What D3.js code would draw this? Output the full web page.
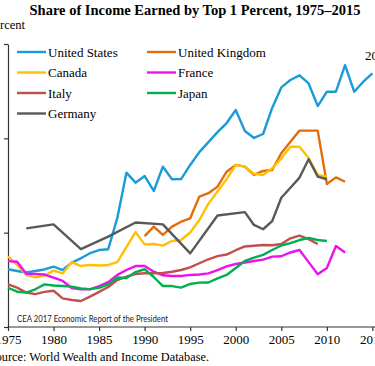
<!DOCTYPE html>
<html><head><meta charset="utf-8">
<script src="https://cdn.jsdelivr.net/npm/d3@7"></script>
<style>body{margin:0;background:#fff;overflow:hidden}svg{display:block}</style>
</head><body>
<svg id="c" width="375" height="366"></svg>
<script>
const seriesNames = ["United States","United Kingdom","Canada","France","Italy","Japan","Germany"];
const seriesColors = ["#1a9bd7","#e46c0a","#ffc000","#ee11ee","#c0504d","#00b050","#595959"];
const usYears = d3.range(1975, 2016);
const usValues = [8.06,7.97,7.89,7.97,8.05,8.20,8.02,8.41,8.64,8.91,9.08,9.12,10.78,13.18,12.65,13.00,12.21,13.50,12.83,12.84,13.59,14.27,14.80,15.33,15.81,16.50,15.39,15.02,15.23,16.61,17.70,18.09,18.34,17.91,16.71,17.47,17.47,18.88,17.47,18.00,18.44];
const ukYears = d3.range(1990, 2013);
const ukValues = [9.82,10.32,9.88,10.32,10.58,10.76,11.91,12.09,12.44,13.23,13.59,13.50,13.06,13.27,13.32,14.21,14.82,15.41,15.41,15.41,12.58,12.93,12.70];
const canadaYears = d3.range(1975, 2011);
const canadaValues = [8.74,8.29,7.78,7.63,7.73,7.99,7.84,8.44,8.23,8.29,8.26,8.29,8.44,9.24,10.03,9.38,9.40,9.31,9.56,9.61,10.01,10.67,11.54,12.18,12.84,13.59,13.50,13.12,13.06,13.41,13.94,14.55,14.55,13.96,13.06,12.97];
const franceYears = d3.range(1975, 2013);
const franceValues = [8.49,8.46,7.82,7.81,7.78,7.62,7.44,7.07,7.00,7.00,7.17,7.38,7.76,8.02,8.23,8.23,7.93,7.74,7.70,7.70,7.76,7.78,7.84,8.02,8.21,8.34,8.42,8.50,8.57,8.73,8.75,8.95,9.08,8.44,7.80,8.13,9.29,8.95];
const italyYears = d3.range(1975, 2010);
const italyValues = [7.26,7.09,6.83,6.74,6.86,6.92,6.52,6.43,6.38,6.61,6.86,7.12,7.49,7.67,7.81,7.85,7.85,7.86,7.93,8.02,8.16,8.38,8.59,8.76,8.84,9.07,9.27,9.31,9.35,9.33,9.40,9.70,9.84,9.66,9.40];
const japanYears = d3.range(1975, 2011);
const japanValues = [7.08,6.87,6.82,7.00,7.26,7.20,7.17,7.14,7.04,7.01,7.08,7.26,7.62,7.60,7.91,8.06,7.65,7.17,7.17,7.09,7.28,7.35,7.36,7.58,7.76,8.13,8.50,8.68,8.82,9.08,9.32,9.45,9.61,9.72,9.61,9.56];
const germanyYears = [1977,1980,1983,1986,1989,1992,1995,1998,2001,2002,2003,2004,2005,2006,2007,2008,2009,2010];
const germanyValues = [10.23,10.44,9.13,9.79,10.54,10.44,8.90,10.91,11.09,10.41,10.18,10.61,11.85,12.38,12.92,13.89,12.97,12.83];
const xTickValues = [1975,1980,1985,1990,1995,2000,2005,2010,2015];
const yTickValues = [5,10,15,20];

const seriesYears = [usYears,ukYears,canadaYears,franceYears,italyYears,japanYears,germanyYears];
const seriesValues = [usValues,ukValues,canadaValues,franceValues,italyValues,japanValues,germanyValues];

const svg = d3.select("#c");
const serif = "'Liberation Serif','Times New Roman',serif";
const x = d3.scaleLinear().domain([1975, 2015]).range([8, 372.4]);
const y = d3.scaleLinear().domain([5, 20]).range([327, 44]);

// title
svg.append("text").attr("x", 195).attr("y", 15).attr("text-anchor","middle")
  .attr("font-family", serif).attr("font-weight","bold").attr("font-size", 14.5)
  .text("Share of Income Earned by Top 1 Percent, 1975–2015");
svg.append("text").attr("x", 25).attr("y", 29).attr("text-anchor","end")
  .attr("font-family", serif).attr("font-size", 12.5).text("Percent");

// axes (y tick labels lie outside the cropped view in the reference)
const yAxis = svg.append("g").attr("transform","translate(8,0)")
  .call(d3.axisLeft(y).tickValues(yTickValues).tickFormat("").tickSize(4).tickSizeOuter(0));
const xAxis = svg.append("g").attr("transform","translate(0,327)")
  .call(d3.axisBottom(x).tickValues(xTickValues).tickFormat(d3.format("d")).tickSize(4).tickSizeOuter(0).tickPadding(4));
xAxis.select(".domain").attr("d","M8,0H375");
[yAxis, xAxis].forEach(g => {
  g.selectAll(".domain, line").attr("stroke","#333").attr("stroke-width",1.2);
  g.selectAll("text").attr("font-family", serif).attr("font-size",13).attr("fill","#000");
});

// lines
const line = d3.line().x(d => x(d[0])).y(d => y(d[1]));
seriesNames.forEach((name, i) => {
  const pts = seriesYears[i].map((yr, j) => [yr, seriesValues[i][j]]);
  svg.append("path").datum(pts).attr("d", line)
    .attr("fill","none").attr("stroke", seriesColors[i]).attr("stroke-width",2.4)
    .attr("stroke-linejoin","round");
});

// legend
const legendRows = [[0,1],[2,3],[4,5],[6]];
legendRows.forEach((row, r) => {
  row.forEach((si, c) => {
    const lx = c === 0 ? 17 : 147;
    const ly = 52 + r * 20.5;
    svg.append("line").attr("x1", lx).attr("x2", lx + 29).attr("y1", ly).attr("y2", ly)
      .attr("stroke", seriesColors[si]).attr("stroke-width", 2.4);
    svg.append("text").attr("x", lx + 31).attr("y", ly + 4.5)
      .attr("font-family", serif).attr("font-size", 13).text(seriesNames[si]);
  });
});

svg.append("text").attr("x", 365).attr("y", 60)
  .attr("font-family", serif).attr("font-size", 13).text("2015");

svg.append("text").attr("x", 17).attr("y", 321.5)
  .attr("font-family", "Lato, 'Open Sans', sans-serif").attr("font-size", 8.6).attr("fill","#222")
  .attr("textLength", 151).attr("lengthAdjust", "spacingAndGlyphs")
  .text("CEA 2017 Economic Report of the President");

svg.append("text").attr("x", 209).attr("y", 361).attr("text-anchor","end")
  .attr("font-family", serif).attr("font-size", 12.3)
  .text("Source: World Wealth and Income Database.");
</script>
</body></html>
